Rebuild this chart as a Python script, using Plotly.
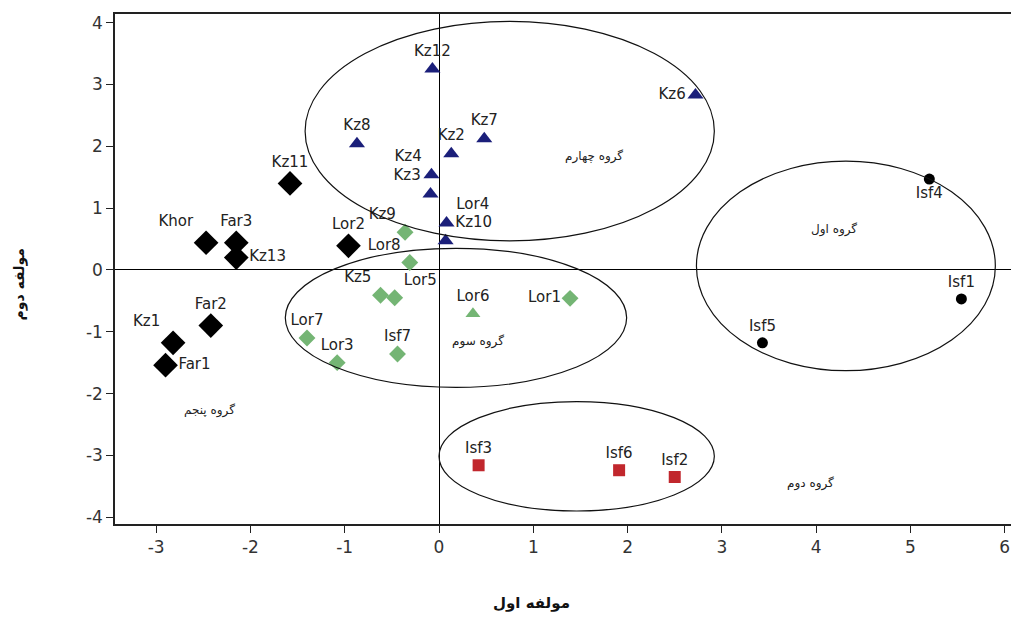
import plotly.graph_objects as go

# ---------------- data ----------------
g5_names = ["Kz11", "Khor", "Far3", "Kz13", "Lor2", "Far2", "Kz1", "Far1"]
g5_x = [-1.58, -2.47, -2.15, -2.15, -0.96, -2.42, -2.82, -2.90]
g5_y = [1.40, 0.44, 0.44, 0.20, 0.39, -0.90, -1.18, -1.54]

g4_names = ["Kz12", "Kz6", "Kz8", "Kz7", "Kz2", "Kz4", "Kz3", "Lor4", "Kz10"]
g4_x = [-0.07, 2.72, -0.87, 0.48, 0.13, -0.08, -0.09, 0.08, 0.07]
g4_y = [3.25, 2.83, 2.04, 2.12, 1.88, 1.54, 1.23, 0.76, 0.47]

g3_names = ["Kz9", "Lor8", "Kz5", "Lor5", "Lor6", "Lor1", "Lor7", "Lor3", "Isf7"]
g3_x = [-0.36, -0.31, -0.62, -0.47, 0.36, 1.39, -1.40, -1.08, -0.44]
g3_y = [0.61, 0.12, -0.41, -0.45, -0.71, -0.46, -1.10, -1.50, -1.36]

g1_names = ["Isf4", "Isf1", "Isf5"]
g1_x = [5.20, 5.54, 3.43]
g1_y = [1.47, -0.47, -1.18]

g2_names = ["Isf3", "Isf6", "Isf2"]
g2_x = [0.42, 1.91, 2.50]
g2_y = [-3.16, -3.24, -3.35]

# cluster ellipses (bounding boxes in data units)
ell_x0 = [-1.42, 2.73, -1.63, 0.00]
ell_x1 = [2.92, 5.90, 1.99, 2.92]
ell_y0 = [0.47, -1.63, -1.90, -3.90]
ell_y1 = [4.02, 1.76, 0.35, -2.13]

group_labels = ["گروه چهارم", "گروه اول", "گروه سوم", "گروه پنجم", "گروه دوم"]
group_lx = [1.64, 4.19, 0.41, -2.43, 3.94]
group_ly = [1.84, 0.66, -1.15, -2.27, -3.45]

x_title = "مولفه اول"
y_title = "مولفه دوم"
x_ticks = [-3, -2, -1, 0, 1, 2, 3, 4, 5, 6]
y_ticks = [-4, -3, -2, -1, 0, 1, 2, 3, 4]

# ---------------- styles ----------------
pos5 = ["top center", "top left", "top center", "middle right", "top center",
        "top center", "top left", "middle right"]
pos4 = ["top center", "middle left", "top center", "top center", "top center",
        "top left", "top left", "top right", "top right"]
pos3 = ["top left", "top left", "top left", "top right", "top center",
        "middle left", "top center", "top center", "top center"]
sym3 = ["diamond", "diamond", "diamond", "diamond", "triangle-up",
        "diamond", "diamond", "diamond", "diamond"]
pos1 = ["bottom center", "top center", "top center"]
pos2 = ["top center", "top center", "top center"]

LBL = dict(family="DejaVu Sans", size=15, color="#222")

fig = go.Figure()


def add(x, y, names, pos, symbol, color, size):
    fig.add_trace(go.Scatter(
        x=x, y=y, text=names, mode="markers+text", textposition=pos,
        textfont=LBL, cliponaxis=False,
        marker=dict(symbol=symbol, color=color, size=size, line=dict(width=0)),
        showlegend=False))


add(g5_x, g5_y, g5_names, pos5, "diamond", "#000000", 19)
add(g4_x, g4_y, g4_names, pos4, "triangle-up", "#1b1f7a", 14)
add(g3_x, g3_y, g3_names, pos3, sym3, "#74b574", 13)
add(g1_x, g1_y, g1_names, pos1, "circle", "#000000", 11)
add(g2_x, g2_y, g2_names, pos2, "square", "#c1272d", 12)

for a, b, c, d in zip(ell_x0, ell_x1, ell_y0, ell_y1):
    fig.add_shape(type="circle", xref="x", yref="y", x0=a, x1=b, y0=c, y1=d,
                  line=dict(color="#111", width=1.2))

for t, gx, gy in zip(group_labels, group_lx, group_ly):
    fig.add_annotation(x=gx, y=gy, text=t, showarrow=False,
                       font=dict(family="DejaVu Sans", size=12, color="#222"))

# the page body adds an 8px margin; figure size and margins account for it
fig.add_annotation(xref="paper", yref="paper", x=0.465, y=-0.155, xanchor="center",
                   yanchor="middle", text="<b>" + x_title + "</b>",
                   showarrow=False, font=dict(family="DejaVu Sans", size=15, color="#111"))
fig.add_annotation(xref="paper", yref="paper", x=-0.107, y=0.47, xanchor="center",
                   yanchor="middle", text="<b>" + y_title + "</b>",
                   textangle=-90, showarrow=False,
                   font=dict(family="DejaVu Sans", size=14, color="#111"))

fig.update_layout(
    width=1003, height=605,
    margin=dict(l=107, r=0, t=6, b=89, autoexpand=False),
    paper_bgcolor="white", plot_bgcolor="white",
    xaxis=dict(range=[-3.436, 6.066], tickvals=x_ticks, ticktext=[str(v) for v in x_ticks],
               showgrid=False, automargin=False,
               zeroline=True, zerolinecolor="#000", zerolinewidth=1,
               showline=True, linecolor="#222", linewidth=1.5, mirror=True,
               ticks="outside", ticklen=7, tickcolor="#222",
               tickfont=dict(family="DejaVu Sans", size=17, color="#333")),
    yaxis=dict(range=[-4.11, 4.14], tickvals=y_ticks, ticktext=[str(v) for v in y_ticks],
               showgrid=False, automargin=False,
               zeroline=True, zerolinecolor="#000", zerolinewidth=1,
               showline=True, linecolor="#222", linewidth=1.5, mirror=False,
               ticks="outside", ticklen=7, tickcolor="#222",
               tickfont=dict(family="DejaVu Sans", size=17, color="#333")),
)

fig.write_html("out.html")
